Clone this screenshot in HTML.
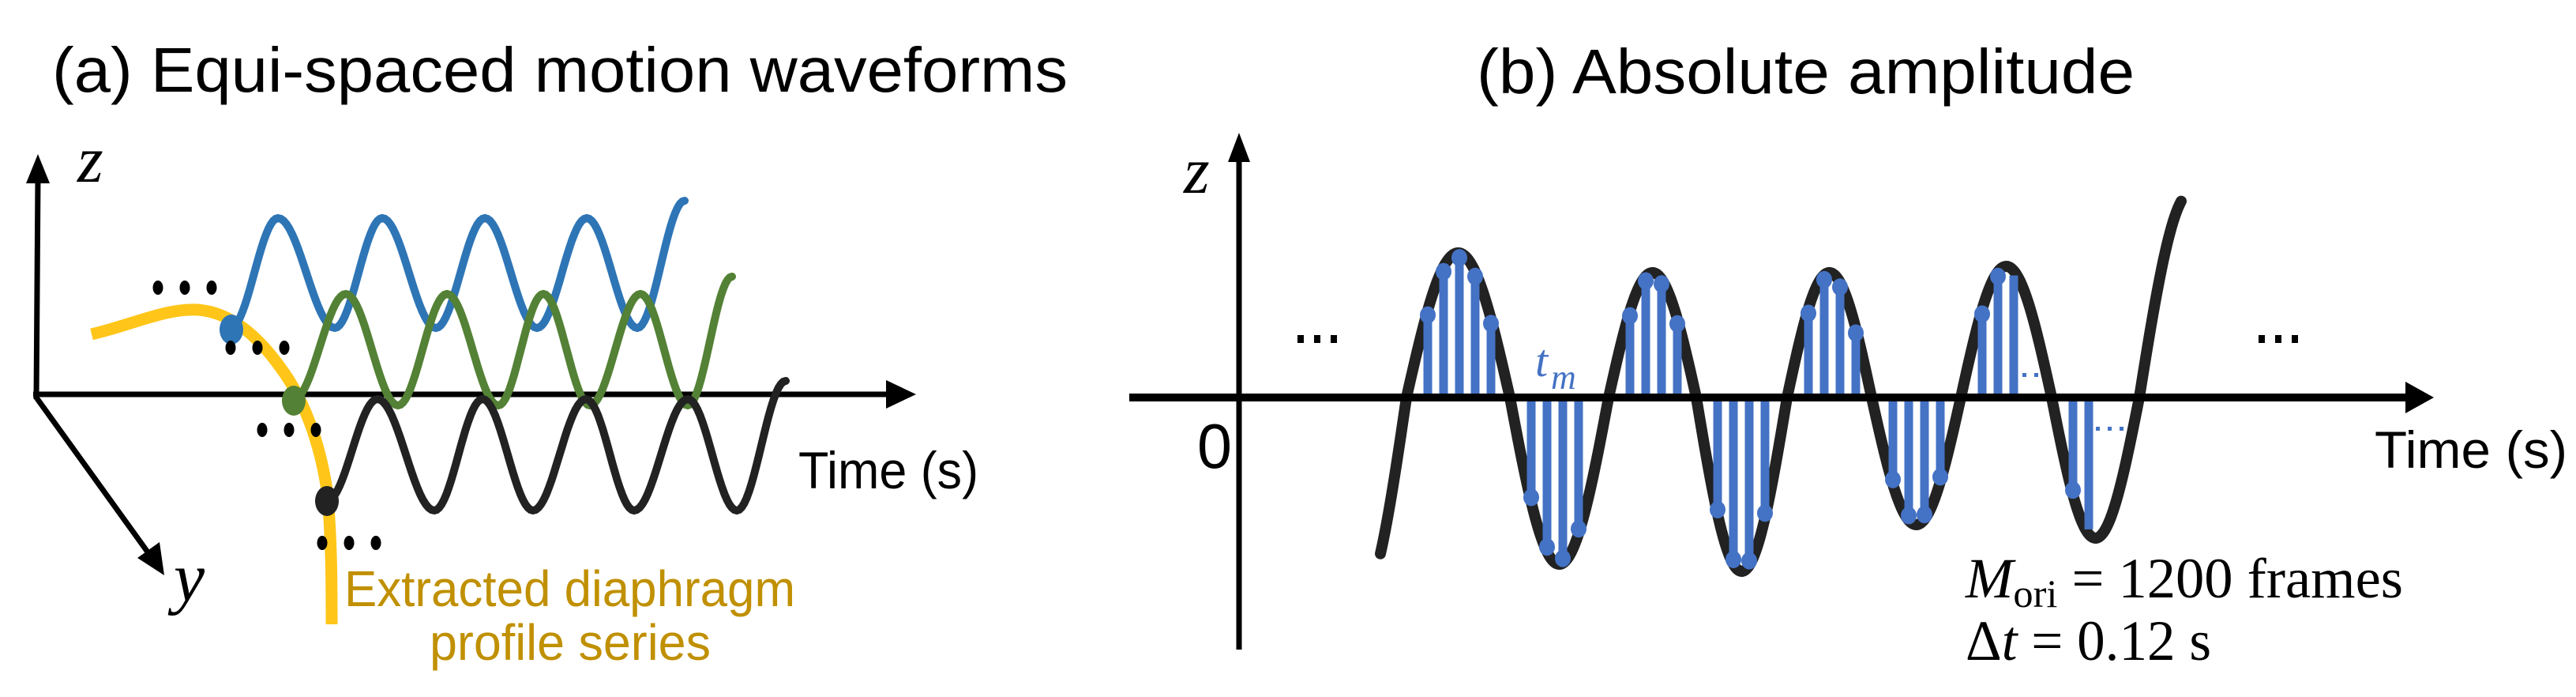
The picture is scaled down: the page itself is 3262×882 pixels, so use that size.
<!DOCTYPE html>
<html><head><meta charset="utf-8">
<style>
html,body{margin:0;padding:0;background:#fff;}
svg{display:block;}
</style></head>
<body>
<svg id="s" width="3262" height="882" viewBox="0 0 3262 882" xmlns="http://www.w3.org/2000/svg">
<rect width="3262" height="882" fill="#fff"/>
<!-- Titles -->
<text x="66" y="116" font-family="Liberation Sans, sans-serif" font-size="80" fill="#000" textLength="1286" lengthAdjust="spacingAndGlyphs">(a) Equi-spaced motion waveforms</text>
<text x="1870" y="118" font-family="Liberation Sans, sans-serif" font-size="80" fill="#000" textLength="833" lengthAdjust="spacingAndGlyphs">(b) Absolute amplitude</text>

<!-- Panel a axes -->
<g stroke="#000" stroke-width="7" fill="none">
<line x1="46" y1="505" x2="48" y2="225"/>
<line x1="42" y1="499" x2="1125" y2="499"/>
<line x1="46" y1="503" x2="188" y2="700"/>
</g>
<polygon points="48,195 33,232 63,232" fill="#000"/>
<polygon points="1160,499 1122,481 1122,517" fill="#000"/>
<polygon points="208,728 174,706 202,686" fill="#000"/>
<text x="98" y="230" font-family="Liberation Serif, serif" font-style="italic" font-size="84">z</text>
<text x="220" y="760" font-family="Liberation Serif, serif" font-style="italic" font-size="88">y</text>
<text x="1011" y="618" font-family="Liberation Sans, sans-serif" font-size="66" textLength="228" lengthAdjust="spacingAndGlyphs">Time (s)</text>

<!-- yellow curve -->
<path d="M116,423 C170,410 210,390 250,392 C295,395 330,430 355,465 C385,505 405,560 414,620 C420,680 420,740 420,790" stroke="#ffc000" stroke-width="15" fill="none" stroke-linecap="butt" opacity="0.9"/>

<g id="wa" fill="none" stroke-width="10" stroke-linecap="round"></g>

<ellipse cx="293" cy="417" rx="15" ry="19" fill="#2e75b6"/>
<ellipse cx="372" cy="507" rx="15" ry="19" fill="#538135"/>
<ellipse cx="414" cy="634" rx="15" ry="19" fill="#222"/>

<g fill="#000" id="dots"></g>

<text x="436" y="767" font-family="Liberation Sans, sans-serif" font-size="64" fill="#c09000" textLength="571" lengthAdjust="spacingAndGlyphs">Extracted diaphragm</text>
<text x="544" y="835" font-family="Liberation Sans, sans-serif" font-size="64" fill="#c09000" textLength="356" lengthAdjust="spacingAndGlyphs">profile series</text>

<!-- Panel b -->
<path id="bw" fill="none" stroke="#222" stroke-width="14" stroke-linecap="round"/>
<g id="stems" fill="#4472c4"></g>
<line x1="1430" y1="503" x2="3050" y2="503" stroke="#000" stroke-width="10"/>
<polygon points="3082,503 3046,483 3046,523" fill="#000"/>
<line x1="1569" y1="822" x2="1569" y2="200" stroke="#000" stroke-width="7"/>
<polygon points="1569,168 1555,205 1583,205" fill="#000"/>
<text x="1499" y="244" font-family="Liberation Serif, serif" font-style="italic" font-size="84">z</text>
<text x="1516" y="592" font-family="Liberation Sans, sans-serif" font-size="80" textLength="44" lengthAdjust="spacingAndGlyphs">0</text>
<text x="3007" y="592" font-family="Liberation Sans, sans-serif" font-size="66" textLength="244" lengthAdjust="spacingAndGlyphs">Time (s)</text>
<g fill="#000">
<rect x="1643" y="424" width="8" height="10"/><rect x="1664" y="424" width="8" height="10"/><rect x="1685" y="424" width="8" height="10"/>
<rect x="2860" y="424" width="8" height="10"/><rect x="2881" y="424" width="8" height="10"/><rect x="2902" y="424" width="8" height="10"/>
</g>
<g fill="#4472c4">
<rect x="2546" y="472" width="5" height="5"/><rect x="2561" y="472" width="5" height="5"/><rect x="2576" y="472" width="5" height="5"/>
<rect x="2654" y="540" width="5" height="5"/><rect x="2669" y="540" width="5" height="5"/><rect x="2684" y="540" width="5" height="5"/>
</g>
<text x="1944" y="476" font-family="Liberation Serif, serif" font-style="italic" font-size="58" fill="#4472c4">t</text>
<text x="1964" y="492" font-family="Liberation Serif, serif" font-style="italic" font-size="44" fill="#4472c4">m</text>

<text x="2489" y="756" font-family="Liberation Serif, serif" font-size="72" textLength="554" lengthAdjust="spacingAndGlyphs"><tspan font-style="italic">M</tspan><tspan font-size="50" dy="12">ori</tspan><tspan dy="-12"> = 1200 frames</tspan></text>
<text x="2489" y="835" font-family="Liberation Serif, serif" font-size="72" textLength="311" lengthAdjust="spacingAndGlyphs">Δ<tspan font-style="italic">t</tspan> = 0.12 s</text>
</svg>
<script>
(function(){
var NS="http://www.w3.org/2000/svg";
function el(t,a,p){var e=document.createElementNS(NS,t);for(var k in a)e.setAttribute(k,a[k]);p.appendChild(e);return e;}
function wave(pts){
  var d="M"+pts[0][0]+","+pts[0][1];
  for(var i=0;i<pts.length-1;i++){
    var a=pts[i],b=pts[i+1];
    for(var s=1;s<=20;s++){var t=s/20;var u=(1-Math.cos(Math.PI*t))/2;
      d+=" L"+(a[0]+(b[0]-a[0])*t).toFixed(1)+","+(a[1]+(b[1]-a[1])*u).toFixed(1);}
  }
  return d;
}
var wa=document.getElementById('wa');
el('path',{d:wave([[292,415],[352,276],[424,415],[484,276],[552,415],[614,276],[680,415],[743,276],[807,415],[867,254]]),stroke:'#2e75b6'},wa);
el('path',{d:wave([[372,505],[438,372],[504,513],[566,372],[631,513],[688,372],[747,513],[811,372],[871,513],[927,350]]),stroke:'#538135'},wa);
el('path',{d:wave([[414,634],[478,505],[550,646],[611,505],[675,646],[742,505],[803,646],[871,505],[933,646],[995,482]]),stroke:'#222'},wa);
var dots=document.getElementById('dots');
[[200,364],[292,440],[332,544],[408,687]].forEach(function(p){for(var i=0;i<3;i++)el('ellipse',{cx:p[0]+i*34,cy:p[1],rx:6.5,ry:9},dots);});

var Y0=503;
var cr=[1661,1781,1912,2037,2148,2263,2370,2483,2598,2709,2840];
var amp=[-260,183,-211,158,-220,158,-161,166,-178,260];
function f(x){for(var i=0;i<cr.length-1;i++){if(x>=cr[i]&&x<=cr[i+1]){var t=(x-cr[i])/(cr[i+1]-cr[i]);return Y0-amp[i]*Math.sin(Math.PI*t);}}return Y0;}
var d="";for(var x=1748;x<=2762;x+=2){d+=(d?" L":"M")+x+","+f(x).toFixed(1);}
document.getElementById('bw').setAttribute('d',d);
var st=document.getElementById('stems');
var counts=[0,5,4,4,4,4,4,3,2];
for(var i=1;i<=8;i++){
  var n=counts[i];
  for(var k=0;k<n;k++){
    var x=cr[i]+27+k*20;
    var y=f(x);
    if(amp[i]>0){y+=6;el('rect',{x:x-5.5,y:y,width:11,height:Y0-y},st);}
    else{y-=6;el('rect',{x:x-5.5,y:Y0,width:11,height:y-Y0},st);}
    if(k!=n-1 || i<7) el('ellipse',{cx:x,cy:y,rx:10,ry:11},st);
  }
}
})();
</script>
</body></html>
